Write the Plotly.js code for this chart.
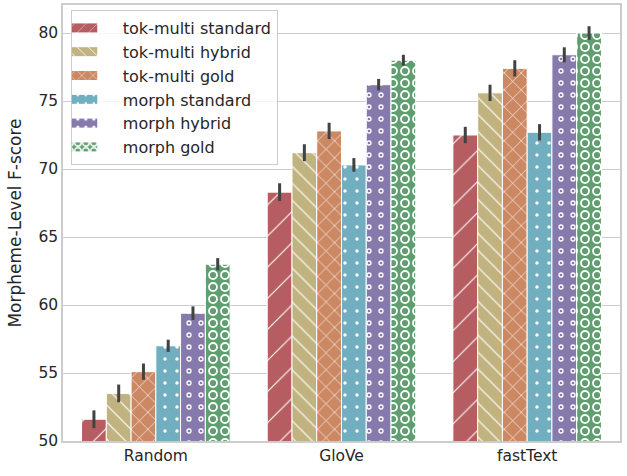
<!DOCTYPE html>
<html>
<head>
<meta charset="utf-8">
<script src="https://cdn.plot.ly/plotly-3.0.1.min.js"></script>
<style>
  html, body { margin: 0; padding: 0; background: #fff; }
  #chart { width: 627px; height: 476px; }
</style>
</head>
<body>
<div id="chart"></div>
<script>
var categories = ['Random', 'GloVe', 'fastText'];
var seriesNames = ['tok-multi standard', 'tok-multi hybrid', 'tok-multi gold',
                   'morph standard', 'morph hybrid', 'morph gold'];

// mean F-scores per embedding type
var tokMultiStandard = [51.6, 68.3, 72.5];
var tokMultiHybrid   = [53.5, 71.2, 75.6];
var tokMultiGold     = [55.1, 72.8, 77.4];
var morphStandard    = [57.0, 70.3, 72.7];
var morphHybrid      = [59.4, 76.2, 78.4];
var morphGold        = [63.0, 78.0, 80.0];

// half-width of the confidence intervals
var tokMultiStandardErr = [0.65, 0.65, 0.6];
var tokMultiHybridErr   = [0.65, 0.62, 0.6];
var tokMultiGoldErr     = [0.6, 0.6, 0.6];
var morphStandardErr    = [0.45, 0.5, 0.6];
var morphHybridErr      = [0.5, 0.42, 0.55];
var morphGoldErr        = [0.45, 0.4, 0.5];

var allValues = [tokMultiStandard, tokMultiHybrid, tokMultiGold, morphStandard, morphHybrid, morphGold];
var allErrors = [tokMultiStandardErr, tokMultiHybridErr, tokMultiGoldErr, morphStandardErr, morphHybridErr, morphGoldErr];

var colors = ['#b55d60', '#c1b37f', '#cc8863', '#71aec0', '#857aab', '#5f9e6e'];
var patterns = [
    {shape: '/', size: 22, solidity: 0.05},
    {shape: '\\', size: 12, solidity: 0.1},
    {shape: 'x', size: 12, solidity: 0.1},
    {shape: '.', size: 12, solidity: 0.065},
    {shape: '.', size: 12, solidity: 0.12},
    {shape: '.', size: 12, solidity: 0.35}
];

var traces = seriesNames.map(function(name, i) {
    return {
        type: 'bar',
        name: name,
        x: categories,
        y: allValues[i],
        marker: {
            color: colors[i],
            line: {color: '#ffffff', width: 1},
            pattern: {
                shape: patterns[i].shape,
                size: patterns[i].size,
                solidity: patterns[i].solidity,
                fgcolor: '#ffffff',
                bgcolor: colors[i],
                fillmode: 'replace'
            }
        },
        error_y: {
            type: 'data',
            array: allErrors[i],
            visible: true,
            color: '#424242',
            thickness: 3,
            width: 0
        },
        hoverinfo: 'none'
    };
});

var layout = {
    width: 627,
    height: 476,
    margin: {l: 63, r: 7, t: 5, b: 35},
    paper_bgcolor: '#ffffff',
    plot_bgcolor: '#ffffff',
    font: {family: 'DejaVu Sans', size: 15, color: '#262626'},
    barmode: 'group',
    bargap: 0.2,
    bargroupgap: 0,
    showlegend: true,
    legend: {
        x: 0.014, y: 0.9885, xanchor: 'left', yanchor: 'top',
        bgcolor: 'rgba(255,255,255,0.8)',
        bordercolor: '#cccccc', borderwidth: 1,
        font: {family: 'DejaVu Sans', size: 16, color: '#262626'},
        itemwidth: 41,
        tracegroupgap: 0
    },
    xaxis: {
        type: 'category',
        range: [-0.5, 2.5],
        showgrid: false,
        showline: true, mirror: true,
        linecolor: '#cccccc', linewidth: 1.5,
        ticks: '', ticklen: 0,
        tickfont: {size: 15.5, color: '#262626'}
    },
    yaxis: {
        range: [50, 82.06],
        tickvals: [50, 55, 60, 65, 70, 75, 80],
        showgrid: true, gridcolor: '#cccccc', gridwidth: 1.3,
        zeroline: false,
        showline: true, mirror: true,
        linecolor: '#cccccc', linewidth: 1.5,
        ticks: '',
        tickfont: {size: 15.5, color: '#262626'},
        title: {text: 'Morpheme-Level F-score', font: {size: 17, color: '#262626'}, standoff: 12}
    }
};

// matplotlib-like finishing: ring hatches and wide legend patches
function finish() {
    document.querySelectorAll('pattern circle').forEach(function(c) {
        var r = parseFloat(c.getAttribute('r'));
        if (r > 3) {
            c.setAttribute('r', 4);
            c.setAttribute('stroke-width', 1.8);
        } else if (r > 2) {
            c.setAttribute('r', 2);
            c.setAttribute('stroke-width', 1.3);
        } else {
            return;
        }
        c.setAttribute('fill', 'none');
        c.setAttribute('stroke', '#ffffff');
        c.style.fill = 'none';
    });
    document.querySelectorAll('.legend .legendpoints path').forEach(function(p) {
        p.setAttribute('d', 'M16,5H-16V-5H16Z');
        p.setAttribute('transform', 'translate(10,0)');
    });
}

Plotly.newPlot('chart', traces, layout, {displayModeBar: false}).then(finish);
</script>
</body>
</html>
